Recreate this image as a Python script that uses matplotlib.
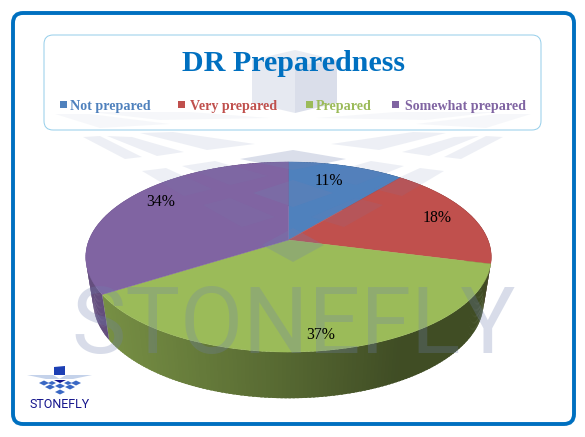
import numpy as np
import matplotlib
matplotlib.use('Agg')
import matplotlib.pyplot as plt
from matplotlib.patches import FancyBboxPatch, Polygon, Rectangle

# data
categories = ['Not prepared', 'Very prepared', 'Prepared', 'Somewhat prepared']
values = [11, 18, 37, 34]
labels = ['11%', '18%', '37%', '34%']
colors = ['#4f81bd', '#c0504d', '#9bbb59', '#8064a2']

title = 'DR Preparedness'
brand = 'STONEFLY'

serif = ['Liberation Serif', 'DejaVu Serif']
sans = ['Roboto', 'Liberation Sans', 'DejaVu Sans']

fig = plt.figure(figsize=(5.85, 4.37), dpi=100)
ax = fig.add_axes([0, 0, 1, 1])
ax.set_xlim(0, 585)
ax.set_ylim(437, 0)
ax.axis('off')


# tilted circle: angle clockwise from the top, with perspective
def rim(t, x0, y0, a, b, k=0.179):
    u, v = np.sin(t), np.cos(t)
    w = 1 + k * v
    return x0 + a * u / w, y0 - b * v / w


def top(t):
    return rim(t, 288.5, 240, 199.5, 92)


def bottom(t):
    return rim(t, 288.5, 285, 192, 93)


# outer frame and title box
ax.add_patch(FancyBboxPatch((13, 13), 561, 411, boxstyle='round,pad=0,rounding_size=10',
                            fc='white', ec='#0070c0', lw=2.8))
ax.add_patch(FancyBboxPatch((44, 35), 497, 95, boxstyle='round,pad=0,rounding_size=9',
                            fc='white', ec='#93cdea', lw=0.7, zorder=2))

# pie side, strips overlap a little so no seams show
edges = np.cumsum([0] + values) / sum(values) * 2 * np.pi
step = np.radians(1)
for i, c in enumerate(colors):
    ts = np.arange(edges[i], edges[i + 1], step)
    rgb = np.array(matplotlib.colors.to_rgb(c))
    for t0 in ts:
        t1 = min(t0 + 1.6 * step, edges[i + 1])
        xa, ya = top(np.array([t0, t1]))
        xb, yb = bottom(np.array([t1, t0]))
        shade = np.interp((xa[0] + xa[1]) / 2, [90, 280, 400], [0.78, 0.56, 0.41])
        ax.add_patch(Polygon(np.c_[np.r_[xa, xb], np.r_[ya, yb]], fc=rgb * shade, ec='none', zorder=3))

# top face
for i, c in enumerate(colors):
    ts = np.linspace(edges[i], edges[i + 1], 120)
    xs, ys = top(ts)
    ax.add_patch(Polygon(np.c_[np.r_[288.5, xs], np.r_[240, ys]], fc=c, ec=c, lw=0.3, zorder=4))

# watermark logo, shows through the pie
wm = '#7080b0'
chevrons = [
    [(83, 137), (125, 159), (142, 157), (100, 136)],
    [(107, 136), (157, 156), (184, 152), (132, 137)],
    [(140, 133), (207, 150), (255, 144), (173, 132)],
    [(142, 171), (184, 196), (212, 189), (166, 168)],
    [(182, 166), (230, 185), (268, 176), (215, 161)],
    [(203, 205), (242, 227), (275, 217), (230, 198)],
]
centres = [
    [(240, 159), (293, 150), (346, 159), (293, 170)],
    [(253, 193), (293, 207), (333, 193), (293, 180)],
    [(262, 245), (293, 262), (324, 245), (293, 228)],
]
for p in chevrons:
    ax.add_patch(Polygon(p, fc=wm, ec='none', alpha=0.12, zorder=5))
    ax.add_patch(Polygon([(586 - x, y) for x, y in p], fc=wm, ec='none', alpha=0.12, zorder=5))
for p in centres:
    ax.add_patch(Polygon(p, fc=wm, ec='none', alpha=0.26, zorder=5))
for p in [[(55, 114), (100, 128), (170, 124), (90, 114)], [(90, 112), (160, 120), (270, 118), (190, 112)]]:
    ax.add_patch(Polygon(p, fc=wm, ec='none', alpha=0.06, zorder=5))
    ax.add_patch(Polygon([(586 - x, y) for x, y in p], fc=wm, ec='none', alpha=0.06, zorder=5))
ax.add_patch(Polygon([(252, 60), (295, 66), (295, 113), (252, 103)], fc=wm, ec='none', alpha=0.17, zorder=2.5))
ax.add_patch(Polygon([(295, 66), (337, 60), (337, 103), (295, 113)], fc=wm, ec='none', alpha=0.26, zorder=2.5))
ax.add_patch(Polygon([(252, 60), (295, 50), (337, 60), (295, 66)], fc=wm, ec='none', alpha=0.14, zorder=2.5))
ax.text(293.5, 353, brand, family=sans, fontsize=66, fontweight='normal', color=wm, alpha=0.27,
        ha='center', va='baseline', zorder=5)

# title and legend
ax.text(293, 71, title, family=serif, fontsize=21.6, fontweight='bold', color='#0070c0',
        ha='center', va='baseline', zorder=6)
legend_sq = [60, 178, 306, 392]
legend_tx = [70, 190, 316, 405]
for c, name, sx, tx in zip(colors, categories, legend_sq, legend_tx):
    ax.add_patch(Rectangle((sx, 101), 7, 7, fc=c, ec='none', zorder=6))
    ax.text(tx, 110, name, family=serif, fontsize=10.05, fontweight='bold', color=c,
            ha='left', va='baseline', zorder=6)

# data labels
label_x = [329, 437, 321, 161]
label_y = [181, 218, 335, 202]
for s, x, y in zip(labels, label_x, label_y):
    ax.text(x, y, s, family=serif, fontsize=11.3, color='black', ha='center', va='center', zorder=7)

# small logo bottom left
navy = '#14148c'
ax.add_patch(Polygon([(54, 367), (65, 366), (65, 375), (54, 375)], fc='#1c3fb4', ec='none', zorder=6))
ax.add_patch(Polygon([(27, 375), (53, 375), (60, 379), (46, 379)], fc='#c4d2ea', ec='none', zorder=6))
ax.add_patch(Polygon([(92, 375), (66, 375), (59, 379), (73, 379)], fc='#c4d2ea', ec='none', zorder=6))
ax.add_patch(Polygon([(54, 380), (66, 380), (60, 383)], fc=navy, ec='none', zorder=6))
for x, y, r in [(44, 383, 5), (52, 383, 4), (68, 383, 4), (76, 383, 5), (50, 387, 5), (60, 386, 5), (70, 387, 5), (60, 392, 5)]:
    ax.add_patch(Polygon([(x - r, y), (x, y - r * 0.5), (x + r, y), (x, y + r * 0.5)], fc='#3a68c4', ec='none', zorder=6))
ax.text(59.5, 408, brand, family=sans, fontsize=9, color=navy, ha='center', va='baseline', zorder=6)

fig.savefig('out.png', dpi=100)
